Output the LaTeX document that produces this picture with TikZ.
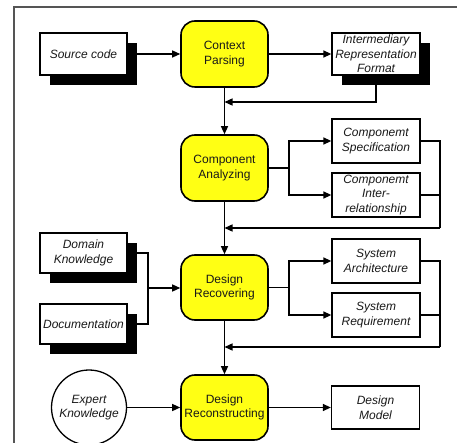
\documentclass[tikz,border=0pt]{standalone}
\usepackage{fontspec}
\setmainfont{Liberation Sans}
\usetikzlibrary{arrows.meta,shadows,calc}
\definecolor{procyellow}{RGB}{255,255,20}
\definecolor{framegray}{RGB}{85,85,85}
\tikzset{
  every node/.style={font=\fontsize{12}{14.5}\selectfont, text=black!90},
  procbox/.style={draw, line width=1.6pt, fill=procyellow, rounded corners=14pt,
    minimum width=87pt, minimum height=66pt, inner sep=0pt, align=center},
  databox/.style={draw, line width=1.3pt, fill=white, minimum width=87pt,
    minimum height=43pt, inner sep=0pt, align=center, font=\fontsize{12}{14.5}\selectfont\itshape},
  shadowbox/.style={databox, drop shadow={shadow xshift=10pt, shadow yshift=-10pt, opacity=1, fill=black}},
  conn/.style={line width=1.3pt, black},
  arr/.style={conn, -{Triangle[length=8pt,width=7pt]}}
}
\begin{document}
\begin{tikzpicture}[x=1pt,y=-1pt]
\useasboundingbox (0,0) rectangle (457,443);
\draw[framegray, line width=2pt] (14,445) -- (14,7) -- (459,7);

% nodes
\node[shadowbox, minimum height=42pt] (src) at (83.5,54) {Source code};
\node[procbox] (cp) at (224.5,54) {Context\\Parsing};
\node[shadowbox, minimum width=88pt, minimum height=42pt] (irf) at (376,54) {Intermediary\\Representation\\Format};
\node[procbox] (ca) at (224.5,168) {Component\\Analyzing};
\node[databox, minimum width=88pt, minimum height=44pt] (cs) at (376,141) {Componemt\\Specification};
\node[databox, minimum width=88pt, minimum height=44pt] (ci) at (376,195) {Componemt\\Inter-\\relationship};
\node[shadowbox, minimum height=40pt] (dk) at (83.5,253) {Domain\\Knowledge};
\node[shadowbox, minimum height=40pt] (doc) at (83.5,324) {Documentation};
\node[procbox, minimum height=65pt] (dr) at (224.5,287.5) {Design\\Recovering};
\node[databox, minimum width=88pt, minimum height=44pt] (sa) at (376,261) {System\\Architecture};
\node[databox, minimum width=88pt, minimum height=44pt] (sr) at (376,315) {System\\Requirement};
\node[procbox, minimum height=65pt] (drc) at (224.5,407.5) {Design\\Reconstructing};
\node[draw, line width=1.3pt, circle, fill=white, minimum size=75pt, inner sep=0pt, align=center,
  font=\fontsize{12}{14.5}\selectfont\itshape] (ek) at (89,407.5) {Expert\\Knowledge};
\node[databox, minimum width=88pt, minimum height=43pt] (dm) at (375.5,407.5) {Design\\Model};

% coordinates
\coordinate (j1) at (224.5,102);
\coordinate (s1) at (289,168);
\coordinate (r1) at (440,228);
\coordinate (j2) at (224.5,228);
\coordinate (m2) at (148,288);
\coordinate (s2) at (289,287.5);
\coordinate (r2) at (440,347);
\coordinate (j3) at (224.5,347);

% connectors
\draw[arr] (src.east) -- (cp.west);
\draw[arr] (cp.east) -- (irf.west);
\draw[arr] (cp.south) -- (ca.north);
\draw[arr] (irf.south) |- (j1);

\draw[conn] (ca.east) -- (s1);
\draw[arr] (s1) |- (cs.west);
\draw[arr] (s1) |- (ci.west);
\draw[conn] (cs.east) -| (r1);
\draw[conn] (ci.east) -- (ci.east -| r1);
\draw[arr] (r1) -- (j2);

\draw[arr] (ca.south) -- (dr.north);
\draw[conn] (dk.east) -| (m2);
\draw[conn] (doc.east) -| (m2);
\draw[arr] (m2) -- (m2 -| dr.west);

\draw[conn] (dr.east) -- (s2);
\draw[arr] (s2) |- (sa.west);
\draw[arr] (s2) |- (sr.west);
\draw[conn] (sa.east) -| (r2);
\draw[conn] (sr.east) -- (sr.east -| r2);
\draw[arr] (r2) -- (j3);

\draw[arr] (dr.south) -- (drc.north);
\draw[arr] (ek.east) -- (drc.west);
\draw[arr] (drc.east) -- (dm.west);
\end{tikzpicture}
\end{document}
